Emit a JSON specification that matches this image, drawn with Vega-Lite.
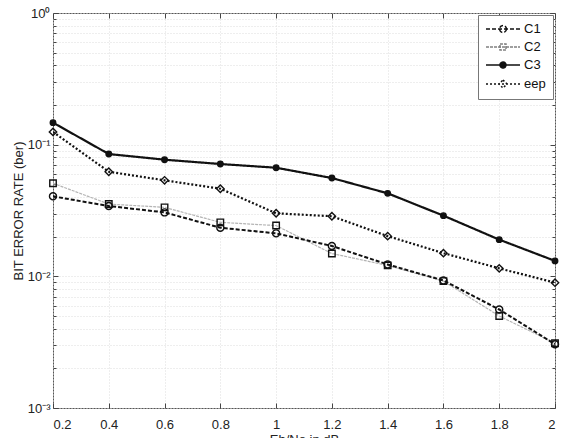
{
  "$schema": "https://vega.github.io/schema/vega-lite/v6.json",
  "width": 502,
  "height": 395,
  "autosize": {"type": "none"},
  "padding": {"left": 53, "top": 13, "right": 9, "bottom": 30},
  "background": "white",
  "config": {
    "font": "Liberation Sans",
    "view": {"stroke": "#555", "strokeWidth": 1},
    "axis": {
      "labelFont": "Liberation Sans",
      "titleFont": "Liberation Sans",
      "labelFontSize": 13,
      "titleFontSize": 13,
      "labelColor": "#222",
      "titleColor": "#222",
      "titleFontWeight": "normal",
      "domain": false,
      "tickColor": "#444",
      "gridColor": "#dcdcdc",
      "gridDash": [1, 2],
      "gridWidth": 1
    }
  },
  "data": {
    "values": [
      {"x": 0.2, "ber": 0.0509, "s": "C2"},
      {"x": 0.4, "ber": 0.0354, "s": "C2"},
      {"x": 0.6, "ber": 0.0334, "s": "C2"},
      {"x": 0.8, "ber": 0.0257, "s": "C2"},
      {"x": 1.0, "ber": 0.0243, "s": "C2"},
      {"x": 1.2, "ber": 0.0149, "s": "C2"},
      {"x": 1.4, "ber": 0.0121, "s": "C2"},
      {"x": 1.6, "ber": 0.0092, "s": "C2"},
      {"x": 1.8, "ber": 0.0050, "s": "C2"},
      {"x": 2.0, "ber": 0.0031, "s": "C2"},
      {"x": 0.2, "ber": 0.0405, "s": "C1"},
      {"x": 0.4, "ber": 0.0342, "s": "C1"},
      {"x": 0.6, "ber": 0.0306, "s": "C1"},
      {"x": 0.8, "ber": 0.0234, "s": "C1"},
      {"x": 1.0, "ber": 0.0212, "s": "C1"},
      {"x": 1.2, "ber": 0.0170, "s": "C1"},
      {"x": 1.4, "ber": 0.0123, "s": "C1"},
      {"x": 1.6, "ber": 0.0093, "s": "C1"},
      {"x": 1.8, "ber": 0.0056, "s": "C1"},
      {"x": 2.0, "ber": 0.00305, "s": "C1"},
      {"x": 0.2, "ber": 0.147, "s": "C3"},
      {"x": 0.4, "ber": 0.0849, "s": "C3"},
      {"x": 0.6, "ber": 0.0769, "s": "C3"},
      {"x": 0.8, "ber": 0.0713, "s": "C3"},
      {"x": 1.0, "ber": 0.0668, "s": "C3"},
      {"x": 1.2, "ber": 0.0558, "s": "C3"},
      {"x": 1.4, "ber": 0.0427, "s": "C3"},
      {"x": 1.6, "ber": 0.0289, "s": "C3"},
      {"x": 1.8, "ber": 0.0190, "s": "C3"},
      {"x": 2.0, "ber": 0.0131, "s": "C3"},
      {"x": 0.2, "ber": 0.125, "s": "eep"},
      {"x": 0.4, "ber": 0.0623, "s": "eep"},
      {"x": 0.6, "ber": 0.0536, "s": "eep"},
      {"x": 0.8, "ber": 0.0463, "s": "eep"},
      {"x": 1.0, "ber": 0.0301, "s": "eep"},
      {"x": 1.2, "ber": 0.0286, "s": "eep"},
      {"x": 1.4, "ber": 0.0202, "s": "eep"},
      {"x": 1.6, "ber": 0.0150, "s": "eep"},
      {"x": 1.8, "ber": 0.0115, "s": "eep"},
      {"x": 2.0, "ber": 0.00895, "s": "eep"}
    ]
  },
  "resolve": {
    "axis": {"x": "independent", "y": "independent"},
    "scale": {"color": "independent", "shape": "independent", "fill": "independent", "strokeDash": "independent"}
  },
  "layer": [
    {
      "mark": {"type": "line", "clip": true},
      "encoding": {
        "x": {
          "field": "x", "type": "quantitative",
          "scale": {"domain": [0.2, 2], "nice": false, "zero": false},
          "axis": {
            "title": "Eb/No in dB",
            "values": [0.2, 0.4, 0.6, 0.8, 1, 1.2, 1.4, 1.6, 1.8, 2],
            "format": "~g",
            "grid": true,
            "tickSize": -5,
            "labelPadding": 15,
            "titlePadding": 2
          }
        },
        "y": {
          "field": "ber", "type": "quantitative",
          "scale": {"type": "log", "domain": [0.001, 1], "nice": false},
          "axis": {
            "title": "BIT ERROR RATE (ber)",
            "values": [0.001, 0.002, 0.003, 0.004, 0.005, 0.006, 0.007, 0.008, 0.009, 0.01, 0.02, 0.03, 0.04, 0.05, 0.06, 0.07, 0.08, 0.09, 0.1, 0.2, 0.3, 0.4, 0.5, 0.6, 0.7, 0.8, 0.9, 1],
            "grid": true,
            "labelExpr": "datum.value == 1 ? '10⁰' : datum.value == 0.1 ? '10⁻¹' : datum.value == 0.01 ? '10⁻²' : datum.value == 0.001 ? '10⁻³' : ''",
            "tickSize": {"condition": {"test": "indexof([1, 0.1, 0.01, 0.001], datum.value) >= 0", "value": -5}, "value": -3},
            "labelPadding": 8,
            "titlePadding": 2
          }
        },
        "color": {
          "field": "s", "type": "nominal",
          "scale": {"domain": ["eep", "C3", "C2", "C1"], "range": ["#111111", "#111111", "#b4b4b4", "#111111"]},
          "legend": null
        },
        "strokeDash": {
          "field": "s", "type": "nominal",
          "scale": {"domain": ["eep", "C3", "C2", "C1"], "range": [[2, 2], [1, 0], [3, 1], [4, 2]]},
          "legend": null
        },
        "strokeWidth": {
          "field": "s", "type": "nominal",
          "scale": {"type": "ordinal", "domain": ["eep", "C3", "C2", "C1"], "range": [2.2, 2.2, 1.2, 2]},
          "legend": null
        }
      }
    },
    {
      "mark": {"type": "point", "strokeWidth": 1.4, "opacity": 1},
      "encoding": {
        "x": {
          "field": "x", "type": "quantitative",
          "scale": {"domain": [0.2, 2], "nice": false, "zero": false},
          "axis": {
            "orient": "top", "title": null, "labels": false, "grid": false,
            "values": [0.2, 0.4, 0.6, 0.8, 1, 1.2, 1.4, 1.6, 1.8, 2],
            "tickSize": -5
          }
        },
        "y": {
          "field": "ber", "type": "quantitative",
          "scale": {"type": "log", "domain": [0.001, 1], "nice": false},
          "axis": {
            "orient": "right", "title": null, "labels": false, "grid": false,
            "values": [0.001, 0.002, 0.003, 0.004, 0.005, 0.006, 0.007, 0.008, 0.009, 0.01, 0.02, 0.03, 0.04, 0.05, 0.06, 0.07, 0.08, 0.09, 0.1, 0.2, 0.3, 0.4, 0.5, 0.6, 0.7, 0.8, 0.9, 1],
            "tickSize": {"condition": {"test": "indexof([1, 0.1, 0.01, 0.001], datum.value) >= 0", "value": -5}, "value": -3}
          }
        },
        "shape": {
          "field": "s", "type": "nominal",
          "scale": {"domain": ["eep", "C3", "C2", "C1"], "range": ["diamond", "circle", "square", "circle"]},
          "legend": null
        },
        "fill": {
          "field": "s", "type": "nominal",
          "scale": {"domain": ["eep", "C3", "C2", "C1"], "range": ["transparent", "#111111", "transparent", "transparent"]},
          "legend": null
        },
        "size": {
          "field": "s", "type": "nominal",
          "scale": {"type": "ordinal", "domain": ["C3", "eep", "C1", "C2"], "range": [30, 55, 50, 42]},
          "legend": null
        },
        "stroke": {"value": "#111111"}
      }
    },
    {
      "transform": [{"filter": "false"}],
      "mark": {"type": "point", "strokeWidth": 1.5, "opacity": 1},
      "encoding": {
        "color": {
          "field": "s", "type": "nominal",
          "scale": {"domain": ["C1", "C2", "C3", "eep"], "range": ["#111111", "#808080", "#111111", "#111111"]},
          "legend": {
            "title": null,
            "orient": "top-right",
            "offset": 2,
            "padding": 7,
            "strokeColor": "#777",
            "fillColor": "white",
            "labelFont": "Liberation Sans",
            "labelFontSize": 13,
            "labelColor": "#111",
            "symbolSize": 144,
            "symbolStrokeWidth": 1.5,
            "symbolOpacity": 1,
            "labelOffset": 25,
            "rowPadding": 4
          }
        },
        "shape": {
          "field": "s", "type": "nominal",
          "scale": {"domain": ["C1", "C2", "C3", "eep"], "range": [
            "M-1,0H4.67M2.41,0A0.58,0.58,0,1,1,1.25,0A0.58,0.58,0,1,1,2.41,0Z",
            "M-1,0H4.67M1.33,-0.5H2.33V0.5H1.33Z",
            "M-1,0H4.67M2.33,0A0.5,0.5,0,1,1,1.33,0A0.5,0.5,0,1,1,2.33,0Z",
            "M-1,0H4.67M1.83,-0.67L2.5,0L1.83,0.67L1.16,0Z"
          ]}
        },
        "fill": {
          "field": "s", "type": "nominal",
          "scale": {"domain": ["C1", "C2", "C3", "eep"], "range": ["transparent", "transparent", "#111111", "transparent"]}
        },
        "strokeDash": {
          "field": "s", "type": "nominal",
          "scale": {"domain": ["C1", "C2", "C3", "eep"], "range": [[4, 2], [3, 1], [1, 0], [2, 2]]}
        }
      }
    }
  ]
}
